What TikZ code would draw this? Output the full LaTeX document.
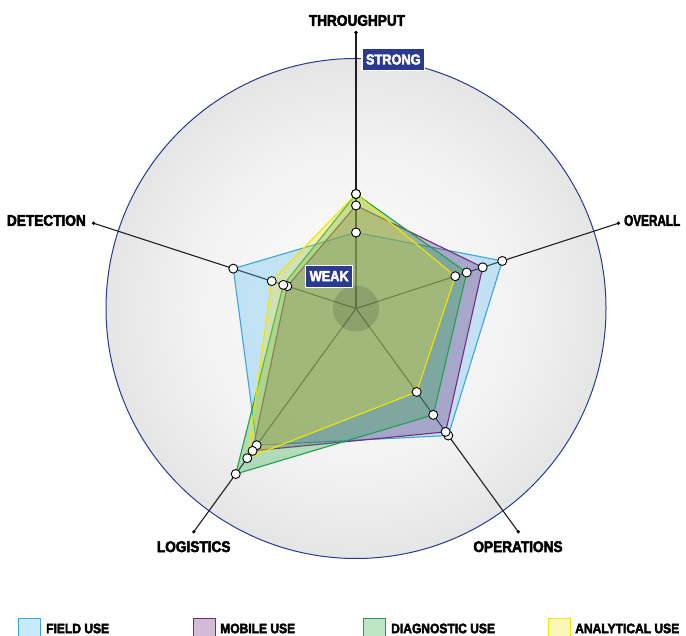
\documentclass[tikz,border=0pt]{standalone}
\usepackage{fontspec}
\setmainfont{Liberation Sans}[FakeStretch=0.88, BoldFeatures={FakeBold=3}]
\definecolor{ringblue}{HTML}{2B3990}
\definecolor{tagblue}{HTML}{2B3990}
\definecolor{fieldE}{HTML}{3AA6DD}
\definecolor{fieldF}{HTML}{4DB8F0}
\definecolor{mobE}{HTML}{7A2A7A}
\definecolor{mobF}{HTML}{6A1F70}
\definecolor{diagE}{HTML}{1FA04A}
\definecolor{diagF}{HTML}{20A840}
\definecolor{anaE}{HTML}{F2E600}
\definecolor{anaF}{HTML}{F0E020}
\pgfdeclareradialshading{ringshade}{\pgfpoint{0bp}{0bp}}{color(0bp)=(white!99!black); color(16bp)=(white!95!black); color(32bp)=(white!86!black); color(50bp)=(white!68!black)}
\begin{document}
\begin{tikzpicture}[x=1pt,y=1pt,
  lbl/.style={font=\bfseries\fontsize{15.5}{15.5}\selectfont, inner sep=0pt},
  leg/.style={font=\bfseries\fontsize{13.7}{13.7}\selectfont, inner sep=0pt, anchor=west},
  tag/.style={fill=tagblue, text=white, draw=white, line width=1.2pt,
              font=\bfseries\fontsize{14.5}{14.5}\selectfont, inner xsep=4pt, minimum height=22pt},
  axisline/.style={draw=black!88, line width=1.1pt},
  enddot/.style={circle, fill=black, minimum size=3.6pt, inner sep=0pt},
  pt/.style={circle, draw=black, fill=white, line width=0.9pt, minimum size=9pt, inner sep=0pt},
  serie/.style={fill opacity=0.3, line width=1.1pt, line join=round},
  fieldS/.style={serie, draw=fieldE, fill=fieldF},
  mobS/.style={serie, draw=mobE, fill=mobF},
  diagS/.style={serie, draw=diagE, fill=diagF},
  anaS/.style={serie, draw=anaE, fill=anaF},
  swatch/.style={line width=1pt, fill opacity=0.3}
]
\useasboundingbox (0,0) rectangle (686,636);
\begin{scope}[shift={(356,327.5)}]
  \shadedraw[shading=ringshade, draw=ringblue, line width=1pt] (0,0) circle (250);
  \coordinate (C) at (0,0);
  \coordinate (Ath) at (90:276);
  \coordinate (Aov) at (18:276);
  \coordinate (Aop) at (-54:276);
  \coordinate (Alo) at (-126:276);
  \coordinate (Ade) at (162:276);
  \foreach \e in {Ath,Aov,Aop,Alo,Ade} {
    \draw[axisline] (C) -- (\e);
    \node[enddot] (dot\e) at (\e) {};
  }
  % data
  \foreach \n/\a/\r in {1/90/76, 2/18/153.8, 3/-54/157, 4/-126/169, 5/162/129}
    \coordinate (f\n) at (\a:\r);
  \foreach \n/\a/\r in {1/90/103, 2/18/133.2, 3/-54/152.5, 4/-126/176, 5/162/72.2}
    \coordinate (m\n) at (\a:\r);
  \foreach \n/\a/\r in {1/90/114.5, 2/18/116.4, 3/-54/131.5, 4/-126/204.6, 5/162/76.4}
    \coordinate (d\n) at (\a:\r);
  \foreach \n/\a/\r in {1/90/114.5, 2/18/104.4, 3/-54/103.2, 4/-126/185, 5/162/88.6}
    \coordinate (a\n) at (\a:\r);
  \filldraw[fieldS] (f1) -- (f2) -- (f3) -- (f4) -- (f5) -- cycle;
  \filldraw[mobS] (m1) -- (m2) -- (m3) -- (m4) -- (m5) -- cycle;
  \filldraw[diagS] (d1) -- (d2) -- (d3) -- (d4) -- (d5) -- cycle;
  \filldraw[anaS] (a1) -- (a2) -- (a3) -- (a4) -- (a5) -- cycle;
  \fill[black, fill opacity=0.13] (C) circle (23);
  \foreach \s in {f,m,d,a}
    \foreach \n in {1,...,5}
      \node[pt] (p\s\n) at (\s\n) {};
\end{scope}
% axis labels
\node[lbl] (lth) at (357,615.5) {THROUGHPUT};
\node[lbl, anchor=east] (lde) at (86,415.5) {DETECTION};
\node[lbl, anchor=west] (lov) at (624,415.5) {\scalebox{0.86}[1]{OVERALL}};
\node[lbl] (llo) at (193.7,89.3) {LOGISTICS};
\node[lbl] (lop) at (518,89.3) {OPERATIONS};
% tags
\node[tag] (strong) at (393.3,576.5) {STRONG};
\node[tag] (weak) at (329.2,359.8) {WEAK};
% legend
\filldraw[swatch, draw=fieldE, fill=fieldF] (18,-4) rectangle (40,17);
\node[leg] (lgf) at (46,7.5) {FIELD USE};
\filldraw[swatch, draw=mobE, fill=mobF] (193.5,-4) rectangle (215.5,17);
\node[leg] (lgm) at (220,7.5) {MOBILE USE};
\filldraw[swatch, draw=diagE, fill=diagF] (363.5,-4) rectangle (385.5,17);
\node[leg] (lgd) at (391,7.5) {DIAGNOSTIC USE};
\filldraw[swatch, draw=anaE, fill=anaF] (548.5,-4) rectangle (570.5,17);
\node[leg] (lga) at (575,7.5) {ANALYTICAL USE};
\end{tikzpicture}
\end{document}
